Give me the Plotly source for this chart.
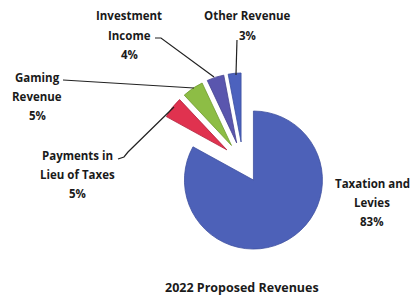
import plotly.graph_objects as go

# ---- data ----
categories = ["Taxation and Levies", "Payments in Lieu of Taxes", "Gaming Revenue",
              "Investment Income", "Other Revenue"]
shares = [83, 5, 5, 4, 3]
label_lines = [
    ["Taxation and", "Levies", "83%"],
    ["Payments in", "Lieu of Taxes", "5%"],
    ["Gaming", "Revenue", "5%"],
    ["Investment", "Income", "4%"],
    ["Other Revenue", "3%"],
]
title_text = "2022 Proposed Revenues"

# ---- style ----
colors = ["#4d61b8", "#e0324f", "#8dbd45", "#5a56ae", "#4c62be"]
edge_colors = ["#3f51a0", "#b0203a", "#6f9a30", "#45418f", "#3b4ea0"]
W, H = 413, 297
FONT = "Open Sans"
LINE_STEP = 19  # px between label lines

def px(x):
    return x / W

def py(y):
    return 1 - y / H

fig = go.Figure(go.Pie(
    labels=categories,
    values=shares,
    sort=False,
    direction="clockwise",
    rotation=0,
    pull=0.297,
    textinfo="none",
    hoverinfo="label+percent",
    marker=dict(colors=colors, line=dict(color=edge_colors, width=0.8)),
    domain=dict(x=[px(153.5), px(332.5)], y=[py(251.9), py(72.9)]),
    showlegend=False,
))

# label positions (center of first line, px)
label_pos = [(372, 183), (77, 155), (37, 77), (129, 16), (247, 16)]
annotations = []
for lines, (cx, cy) in zip(label_lines, label_pos):
    for i, t in enumerate(lines):
        annotations.append(dict(
            text=t, x=px(cx), y=py(cy + i * LINE_STEP), xref="paper", yref="paper",
            xanchor="center", yanchor="middle", showarrow=False,
            font=dict(family=FONT, size=11.5, color="#1a1a1a", weight="bold"),
        ))
annotations.append(dict(
    text=title_text, x=px(242), y=py(287), xref="paper", yref="paper",
    xanchor="center", yanchor="middle", showarrow=False,
    font=dict(family=FONT, size=12.5, color="#1a1a1a", weight="bold"),
))

# leader lines (px paths)
leaders = [
    [(118, 159), (124, 157), (128, 152), (174, 107)],   # Payments in Lieu
    [(63, 80), (194, 88)],                              # Gaming
    [(155, 38), (161, 38), (214, 77)],                  # Investment
    [(237, 40), (236, 75)],                             # Other
]
shapes = []
for pts in leaders:
    path = "M " + " L ".join(f"{px(x):.4f},{py(y):.4f}" for x, y in pts)
    shapes.append(dict(type="path", path=path, xref="paper", yref="paper",
                       line=dict(color="#222222", width=1.2)))

fig.update_layout(
    width=W, height=H,
    margin=dict(l=0, r=0, t=0, b=0),
    paper_bgcolor="#ffffff",
    plot_bgcolor="#ffffff",
    annotations=annotations,
    shapes=shapes,
)

fig.write_html(
    "out.html",
    config={"displayModeBar": False},
    post_script="document.body.style.margin='0';document.body.style.padding='0';",
)
